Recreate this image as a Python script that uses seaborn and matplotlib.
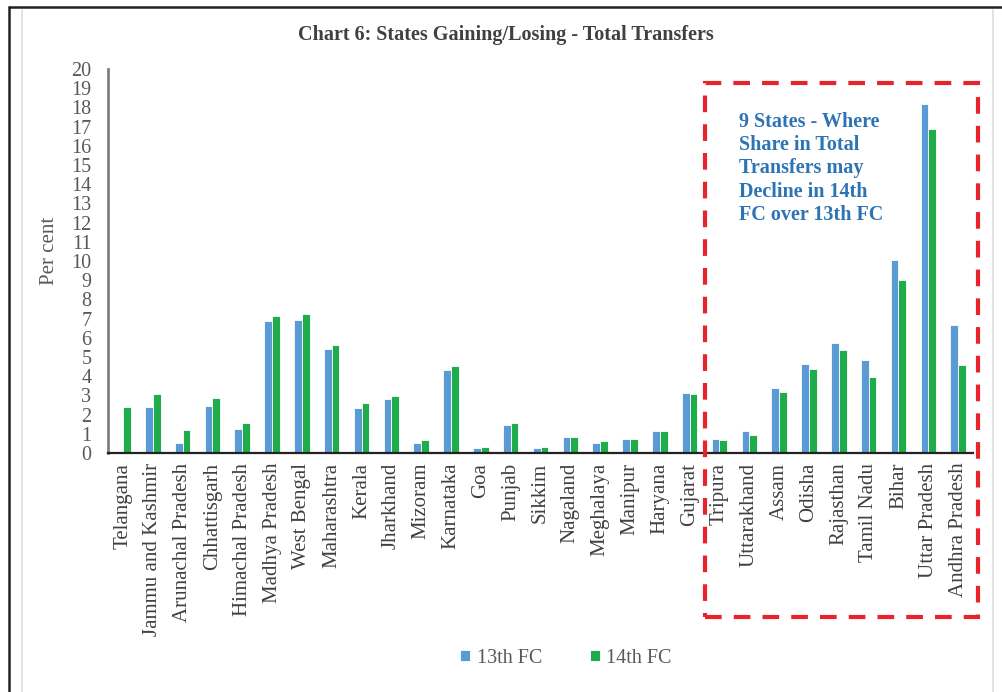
import matplotlib
matplotlib.use("Agg")
import matplotlib.pyplot as plt
import seaborn as sns
import pandas as pd
from matplotlib.patches import Rectangle
from matplotlib.lines import Line2D

states = ["Telangana", "Jammu and Kashmir", "Arunachal Pradesh", "Chhattisgarh",
          "Himachal Pradesh", "Madhya Pradesh", "West Bengal", "Maharashtra",
          "Kerala", "Jharkhand", "Mizoram", "Karnataka", "Goa", "Punjab",
          "Sikkim", "Nagaland", "Meghalaya", "Manipur", "Haryana", "Gujarat",
          "Tripura", "Uttarakhand", "Assam", "Odisha", "Rajasthan",
          "Tamil Nadu", "Bihar", "Uttar Pradesh", "Andhra Pradesh"]
fc13 = [0.0, 2.38, 0.54, 2.43, 1.27, 6.85, 6.93, 5.40, 2.36, 2.81, 0.52, 4.34,
        0.24, 1.47, 0.24, 0.83, 0.52, 0.75, 1.13, 3.10, 0.73, 1.16, 3.36,
        4.62, 5.71, 4.83, 10.06, 18.2, 6.68]
fc14 = [2.38, 3.09, 1.18, 2.88, 1.56, 7.15, 7.22, 5.60, 2.58, 2.95, 0.69, 4.51,
        0.33, 1.56, 0.33, 0.83, 0.62, 0.75, 1.13, 3.08, 0.67, 0.95, 3.16,
        4.37, 5.35, 3.96, 9.03, 16.9, 4.56]
series = ["13th FC", "14th FC"]
colors = ["#5b9bd5", "#1fad4b"]
yticks = list(range(0, 21))
title = "Chart 6: States Gaining/Losing - Total Transfers"
ylabel = "Per cent"
note = "9 States - Where\nShare in Total\nTransfers may\nDecline in 14th\nFC over 13th FC"

df = pd.DataFrame({
    "State": states * 2,
    "Series": [series[0]] * len(states) + [series[1]] * len(states),
    "Value": fc13 + fc14,
})

sns.set_style("white")
plt.rcParams["font.family"] = ["Liberation Serif", "DejaVu Serif"]

fig = plt.figure(figsize=(10.02, 6.92), dpi=100)
ax = fig.add_axes([0.1078, 0.3454, 0.8633, 0.5549])

sns.barplot(data=df, x="State", y="Value", hue="Series", palette=colors,
            width=0.52, ax=ax, saturation=1, edgecolor="white", linewidth=0.6,
            legend=True)

ax.set_ylim(0, 20)
ax.set_xlim(-0.5, 28.5)
ax.set_yticks(yticks)
ax.set_yticklabels([str(t) for t in yticks], fontsize=14.5, color="#595959")
ax.tick_params(axis="y", length=0, pad=12)
ax.tick_params(axis="x", length=0, pad=7)
ax.set_xticks(range(len(states)))
ax.set_xticklabels(states, rotation=90, fontsize=15, color="#404040")
ax.set_xlabel("")
ax.set_ylabel(ylabel, fontsize=15, color="#595959")
ax.yaxis.set_label_coords(-0.0566, 0.526)

for s in ["top", "right"]:
    ax.spines[s].set_visible(False)
ax.spines["left"].set_color("#7f7f7f")
ax.spines["left"].set_linewidth(2)
ax.spines["bottom"].set_color("#222222")
ax.spines["bottom"].set_linewidth(1.6)

fig.text(0.505, 0.949, title, ha="center", va="center", fontsize=14.5,
         fontweight="bold", color="#404040")

leg = ax.legend(loc="center", bbox_to_anchor=(0.565, 0.049),
                bbox_transform=fig.transFigure, ncol=2, frameon=False,
                fontsize=14.5, handlelength=0.5, handleheight=0.5,
                handletextpad=0.3, columnspacing=2.4)
for t in leg.get_texts():
    t.set_color("#595959")

# dashed red highlight box
rect = Rectangle((0.7036, 0.1084), 0.2725, 0.7721, transform=fig.transFigure,
                 fill=False, edgecolor="#e8232b", linewidth=3.0,
                 linestyle=(0, (4.0, 2.9)), clip_on=False)
fig.add_artist(rect)

fig.text(0.7375, 0.838, note, ha="left", va="top", fontsize=14.5,
         fontweight="bold", color="#2e74b5", linespacing=1.21)

# outer frame lines
fig.add_artist(Line2D([0.009, 0.009], [0, 0.990], transform=fig.transFigure,
                      color="#222222", linewidth=1.8))
fig.add_artist(Line2D([0.009, 1.0], [0.990, 0.990], transform=fig.transFigure,
                      color="#222222", linewidth=1.8))
fig.add_artist(Line2D([0.022, 0.022], [0, 0.985], transform=fig.transFigure,
                      color="#dddddd", linewidth=1.2))
fig.add_artist(Line2D([0.991, 0.991], [0, 0.985], transform=fig.transFigure,
                      color="#dddddd", linewidth=1.2))

fig.savefig("out.png", dpi=100)
